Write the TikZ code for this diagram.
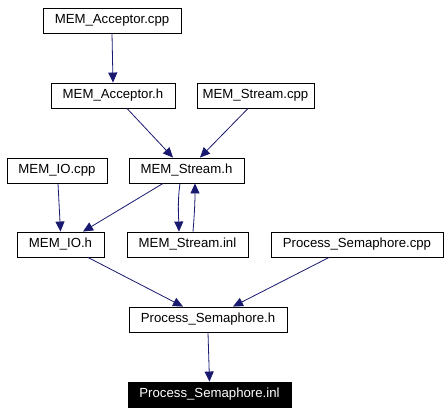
\documentclass[tikz,border=0pt]{standalone}
\usepackage{fontspec}
\setmainfont{Liberation Sans}
\usetikzlibrary{arrows.meta}
\definecolor{edgecol}{HTML}{191970}
\tikzset{
  file/.style={draw=black, line width=0.9pt, fill=white, inner sep=0pt, minimum height=25pt, font=\fontsize{13.2}{15}\selectfont},
  cur/.style={file, fill=black, text=white},
  dep/.style={draw=edgecol, line width=0.8pt, -{Triangle[length=10pt,width=9pt]}}
}
\begin{document}
\begin{tikzpicture}[x=1pt,y=-1pt]
\useasboundingbox (0,0) rectangle (448,413);
\node[file, minimum width=138pt] (acpp) at (112,20.5) {MEM\_Acceptor.cpp};
\node[file, minimum width=124pt] (ah) at (113,95.5) {MEM\_Acceptor.h};
\node[file, minimum width=117pt] (scpp) at (255.5,95.5) {MEM\_Stream.cpp};
\node[file, minimum width=100pt] (iocpp) at (57,170.5) {MEM\_IO.cpp};
\node[file, minimum width=115pt] (sh) at (186.5,170.5) {MEM\_Stream.h};
\node[file, minimum width=87pt] (ioh) at (60.5,244.5) {MEM\_IO.h};
\node[file, minimum width=121pt] (sinl) at (187.5,244.5) {MEM\_Stream.inl};
\node[file, minimum width=172pt] (pcpp) at (357,244.5) {Process\_Semaphore.cpp};
\node[file, minimum width=158pt] (ph) at (208,319.5) {Process\_Semaphore.h};
\node[cur, minimum width=163pt] (pinl) at (209.5,394.5) {Process\_Semaphore.inl};

\draw[dep] (acpp.south) -- (ah.north);
\draw[dep] ([xshift=14pt]ah.south) -- ([xshift=-13.5pt]sh.north);
\draw[dep] ([xshift=-7.5pt]scpp.south) -- ([xshift=13.5pt]sh.north);
\draw[dep] ([xshift=1pt]iocpp.south) -- (ioh.north);
\draw[dep] ([xshift=-23.5pt]sh.south) -- ([xshift=22.5pt]ioh.north);
\draw[dep] ([xshift=-6.5pt]sh.south) .. controls ([xshift=-9pt,yshift=-18pt]sh.south) and ([xshift=-9pt,yshift=18pt]sinl.north) .. ([xshift=-8.5pt]sinl.north);
\draw[dep] ([xshift=5.5pt]sinl.north) .. controls ([xshift=7pt,yshift=18pt]sinl.north) and ([xshift=8.5pt,yshift=-18pt]sh.south) .. ([xshift=8.5pt]sh.south);
\draw[dep] ([xshift=27.5pt]ioh.south) -- ([xshift=-25pt]ph.north);
\draw[dep] ([xshift=-28pt]pcpp.south) -- ([xshift=25pt]ph.north);
\draw[dep] (ph.south) -- (pinl.north);
\end{tikzpicture}
\end{document}
